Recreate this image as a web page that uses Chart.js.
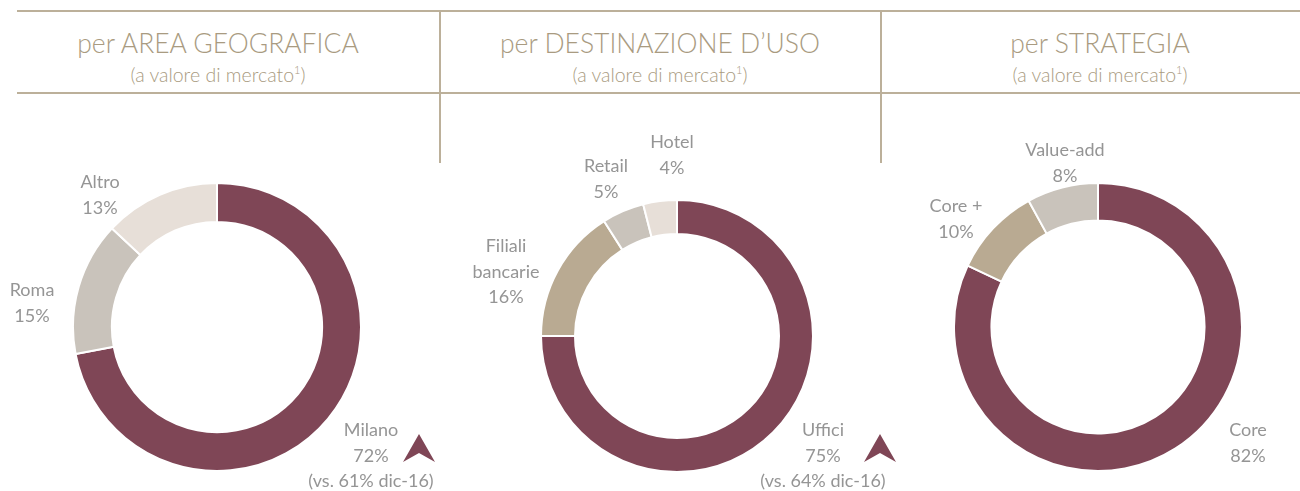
<!DOCTYPE html>
<html>
<head>
<meta charset="utf-8">
<script src="https://cdn.jsdelivr.net/npm/chart.js@4.4.1/dist/chart.umd.min.js"></script>
<style>
    body { margin: 0; background: #fff; width: 1300px; height: 491px; overflow: hidden; position: relative; font-family: Lato, "Noto Sans", sans-serif; }
    .hline { position: absolute; left: 17px; right: 0; height: 2px; background: #bcb09a; }
    .vline { position: absolute; top: 11px; width: 2px; height: 152px; background: #bcb09a; }
    .titolo { position: absolute; width: 440px; text-align: center; color: #a99b81; font-weight: 300; }
    .titolo .t1 { font-size: 26.5px; line-height: 30px; }
    .titolo .t2 { font-size: 19.5px; line-height: 24px; }
    .box { position: absolute; }
    .lbl { position: absolute; width: 200px; margin-left: -100px; text-align: center; color: #959595; font-size: 18px; line-height: 25.5px; white-space: pre-line; }
    svg { position: absolute; }
</style>
</head>
<body>

<div class="hline" style="top:10px"></div>
<div class="hline" style="top:92px"></div>
<div class="vline" style="left:439px"></div>
<div class="vline" style="left:880px"></div>

<div class="titolo" style="left:-2px;top:28px"><div class="t1">per AREA GEOGRAFICA</div><div class="t2">(a valore di mercato<sup style="font-size:11px">1</sup>)</div></div>
<div class="titolo" style="left:440px;top:28px"><div class="t1">per DESTINAZIONE D’USO</div><div class="t2">(a valore di mercato<sup style="font-size:11px">1</sup>)</div></div>
<div class="titolo" style="left:880px;top:28px"><div class="t1">per STRATEGIA</div><div class="t2">(a valore di mercato<sup style="font-size:11px">1</sup>)</div></div>

<div class="box" style="left:72px;top:182px;width:290px;height:290px"><canvas id="graficoArea"></canvas></div>
<div class="box" style="left:540px;top:199px;width:274px;height:274px"><canvas id="graficoUso"></canvas></div>
<div class="box" style="left:953px;top:182px;width:290px;height:290px"><canvas id="graficoStrategia"></canvas></div>

<svg style="left:403px;top:434px" width="32" height="29"><polygon points="0,28 16,0 32,28 16,19" fill="#7f4656"/></svg>
<svg style="left:864px;top:434px" width="32" height="29"><polygon points="0,28 16,0 32,28 16,19" fill="#7f4656"/></svg>

<script>
// dati
var areaNomi = ['Milano', 'Roma', 'Altro'];
var areaValori = [72, 15, 13];
var areaNote = ['(vs. 61% dic-16)', '', ''];

var usoNomi = ['Uffici', 'Filiali\nbancarie', 'Retail', 'Hotel'];
var usoValori = [75, 16, 5, 4];
var usoNote = ['(vs. 64% dic-16)', '', '', ''];

var strategiaNomi = ['Core', 'Core +', 'Value-add'];
var strategiaValori = [82, 10, 8];

var bordeaux = '#7f4656';

function creaGrafico(id, nomi, valori, colori, cutout) {
    var ctx = document.getElementById(id);
    return new Chart(ctx, {
        type: 'doughnut',
        data: {
            labels: nomi,
            datasets: [{
                data: valori,
                backgroundColor: colori,
                borderColor: '#ffffff',
                borderWidth: 2
            }]
        },
        options: {
            responsive: true,
            maintainAspectRatio: false,
            animation: false,
            cutout: cutout,
            plugins: {
                legend: { display: false },
                tooltip: { enabled: false }
            },
            layout: { padding: 0 }
        }
    });
}

creaGrafico('graficoArea', areaNomi, areaValori, [bordeaux, '#c9c3bb', '#e7dfd8'], '73%');
creaGrafico('graficoUso', usoNomi, usoValori, [bordeaux, '#b9aa92', '#c9c3bb', '#e7dfd8'], '75%');
creaGrafico('graficoStrategia', strategiaNomi, strategiaValori, [bordeaux, '#b9aa92', '#c9c3bb'], '74%');

// etichette: posizione (centro x, top y) di ogni fetta
function etichette(nomi, valori, note, pos) {
    for (var i = 0; i < nomi.length; i++) {
        var d = document.createElement('div');
        d.className = 'lbl';
        var testo = nomi[i] + '\n' + valori[i] + '%';
        if (note && note[i]) testo += '\n' + note[i];
        d.textContent = testo;
        d.style.left = pos[i][0] + 'px';
        d.style.top = pos[i][1] + 'px';
        document.body.appendChild(d);
    }
}

etichette(areaNomi, areaValori, areaNote, [[371, 417], [32, 277], [100, 169]]);
etichette(usoNomi, usoValori, usoNote, [[823, 417], [506, 233], [606, 153], [672, 129]]);
etichette(strategiaNomi, strategiaValori, null, [[1248, 417], [956, 193], [1065, 137]]);
</script>
</body>
</html>
